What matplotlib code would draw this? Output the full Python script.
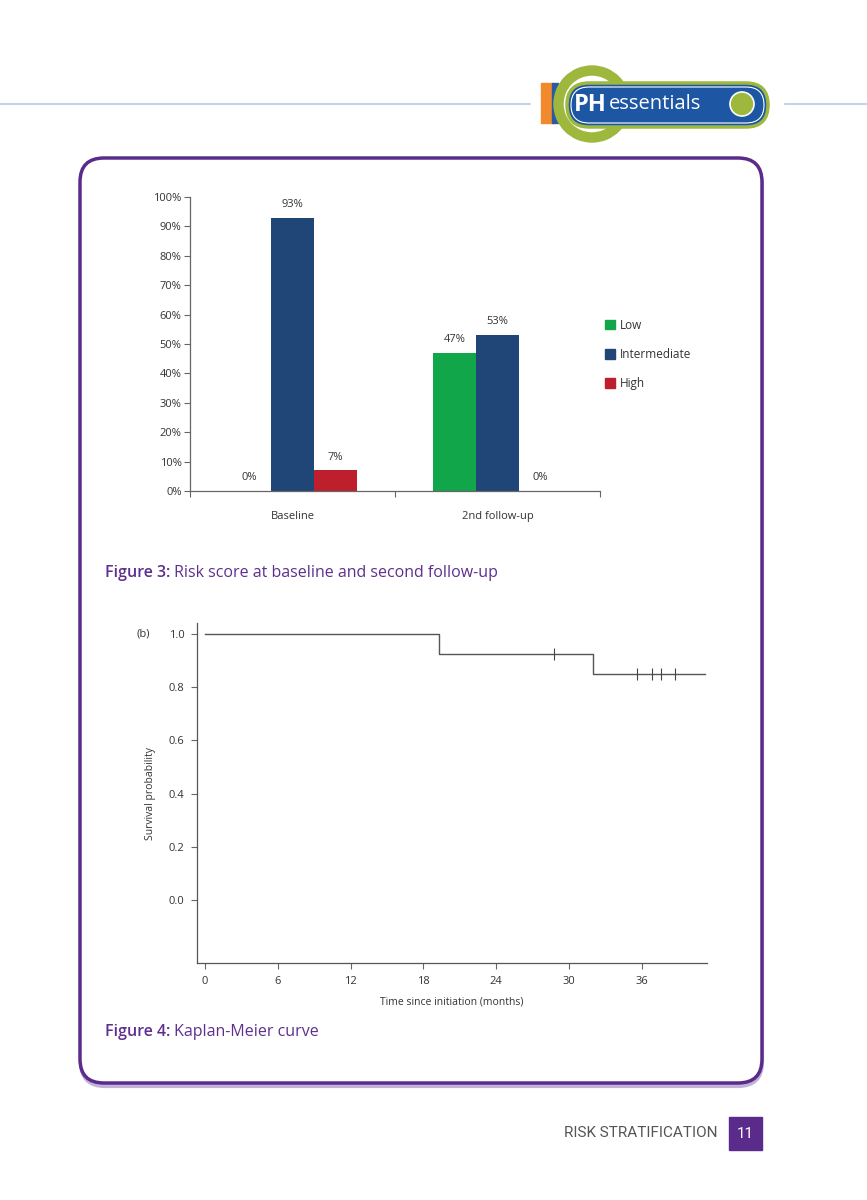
import matplotlib.pyplot as plt
from matplotlib.patches import FancyBboxPatch, Rectangle, Circle, Wedge

plt.rcParams['font.family'] = ['Open Sans', 'DejaVu Sans']

# bar chart data (percent)
groups = ['Baseline', '2nd follow-up']
risk_levels = ['Low', 'Intermediate', 'High']
low = [0, 47]
intermediate = [93, 53]
high = [7, 0]
bar_colors = ['#12a64a', '#1f4676', '#bd1f2c']

# Kaplan-Meier data (months, survival)
km_times = [0, 19.3, 32.0, 41.2]
km_surv = [1.0, 0.925, 0.85, 0.85]
censor_times = [28.8, 35.6, 36.9, 37.6, 38.8]
censor_surv = [0.925, 0.85, 0.85, 0.85, 0.85]

W, H = 867, 1200
fig = plt.figure(figsize=(W / 100, H / 100), dpi=100)

# page background layer in pixel units
bg = fig.add_axes([0, 0, 1, 1], zorder=0)
bg.set_xlim(0, W)
bg.set_ylim(H, 0)
bg.axis('off')

purple = '#5b2b8c'

# header line and logo
bg.plot([0, 530], [104, 104], color='#b9d0ea', lw=1.3)
bg.plot([785, W], [104, 104], color='#b9d0ea', lw=1.3)
bg.add_patch(Rectangle((541, 83), 12, 40, color='#f08a2c'))
bg.add_patch(Rectangle((552, 83), 6, 40, color='#2a5aa0'))
bg.add_patch(Wedge((592, 104), 38, 0, 360, width=9, color='#9db83c'))
bg.add_patch(FancyBboxPatch((567, 83), 201, 44, boxstyle='round,pad=0,rounding_size=22',
                            fc='#1d56a3', ec='#9db83c', lw=2.5))
bg.add_patch(FancyBboxPatch((571, 87), 193, 36, boxstyle='round,pad=0,rounding_size=18',
                            fc='none', ec='white', lw=0.8))
bg.text(574, 105, 'PH', color='white', fontsize=17, fontweight='bold', va='center', ha='left')
bg.text(609, 104, 'essentials', color='white', fontsize=14.5, va='center', ha='left')
bg.add_patch(Circle((742, 104), 12, fc='#9db83c', ec='white', lw=1.2))

# rounded frame with shadow
bg.add_patch(FancyBboxPatch((81, 162), 681, 924, boxstyle='round,pad=0,rounding_size=24',
                            fc='none', ec='#c2b2d8', lw=3))
bg.add_patch(FancyBboxPatch((80, 158), 682, 925, boxstyle='round,pad=0,rounding_size=24',
                            fc='white', ec=purple, lw=2.5))

# captions
cap_color = '#5e2f8e'
t3 = bg.text(105, 573, 'Figure 3:', color=cap_color, fontsize=11.5, fontweight='semibold', va='center')
bg.annotate(' Risk score at baseline and second follow-up', xy=(1, 0.5), xycoords=t3,
            va='center', color=cap_color, fontsize=11.5)
t4 = bg.text(105, 1032, 'Figure 4:', color=cap_color, fontsize=11.5, fontweight='semibold', va='center')
bg.annotate(' Kaplan-Meier curve', xy=(1, 0.5), xycoords=t4,
            va='center', color=cap_color, fontsize=11.5)

# footer
bg.text(717, 1133, 'RISK STRATIFICATION', ha='right', va='center', fontsize=11, color='#555555',
        family=['Liberation Sans Narrow', 'Roboto', 'DejaVu Sans'])
bg.add_patch(Rectangle((729, 1117), 33, 33, color=purple))
bg.text(745.5, 1134, '11', ha='center', va='center', color='white', fontsize=11,
        family=['Roboto', 'DejaVu Sans'])

# ---- bar chart ----
ax = fig.add_axes([190 / W, 1 - 491 / H, 410 / W, 294 / H], zorder=1)
ax.patch.set_alpha(0)
bw = 0.21
x = list(range(len(groups)))
series = [low, intermediate, high]
for k, (name, vals, c) in enumerate(zip(risk_levels, series, bar_colors)):
    xs = [xi + (k - 1) * bw for xi in x]
    bars = ax.bar(xs, vals, width=bw, color=c, label=name)
    for b, v in zip(bars, vals):
        ax.annotate(f'{v}%', (b.get_x() + b.get_width() / 2, v), xytext=(0, 9.5),
                    textcoords='offset points', ha='center', va='center', fontsize=8, color='#333333')

ax.set_xlim(-0.5, 1.5)
ax.set_ylim(0, 100)
ax.set_yticks(range(0, 101, 10))
ax.set_yticklabels([f'{v}%' for v in range(0, 101, 10)], fontsize=8, color='#333333')
ax.set_xticks([-0.5, 0.5, 1.5])
ax.set_xticklabels([])
for xi, g in zip(x, groups):
    ax.text(xi, -8.8, g, ha='center', va='center', fontsize=8, color='#333333')
for s in ['top', 'right']:
    ax.spines[s].set_visible(False)
for s in ['left', 'bottom']:
    ax.spines[s].set_color('#666666')
    ax.spines[s].set_linewidth(0.9)
ax.tick_params(length=4, width=0.8, color='#666666', pad=2)

handles = [Rectangle((0, 0), 1, 1, color=c) for c in bar_colors]
fig.legend(handles, risk_levels, loc='upper left', bbox_to_anchor=(594 / W, 1 - 308 / H),
           frameon=False, fontsize=8.5, handlelength=0.9, handleheight=0.9,
           handletextpad=0.35, labelspacing=1.36, labelcolor='#333333')

# ---- Kaplan-Meier ----
km = fig.add_axes([197 / W, 1 - 963 / H, 510 / W, 340 / H], zorder=1)
km.patch.set_alpha(0)
km.step(km_times, km_surv, where='post', color='#555555', lw=1)
km.plot(censor_times, censor_surv, ls='none', marker='|', ms=8, mew=0.8, color='#444444')
km.set_xlim(-0.66, 41.4)
km.set_ylim(-0.237, 1.041)
km.set_xticks(range(0, 37, 6))
km.set_yticks([0.0, 0.2, 0.4, 0.6, 0.8, 1.0])
km.set_yticklabels(['0.0', '0.2', '0.4', '0.6', '0.8', '1.0'])
km.tick_params(labelsize=8, length=4, width=0.8, color='#666666', labelcolor='#333333', pad=5)
for s in ['top', 'right']:
    km.spines[s].set_visible(False)
for s in ['left', 'bottom']:
    km.spines[s].set_color('#555555')
    km.spines[s].set_linewidth(0.9)
km.set_xlabel('Time since initiation (months)', fontsize=7.5, color='#333333', labelpad=7)
km.set_ylabel('Survival probability', fontsize=7.5, color='#333333', labelpad=9)
bg.text(143, 634, '(b)', fontsize=8, va='center', ha='center', color='#333333')

fig.savefig('out.png', dpi=100)
